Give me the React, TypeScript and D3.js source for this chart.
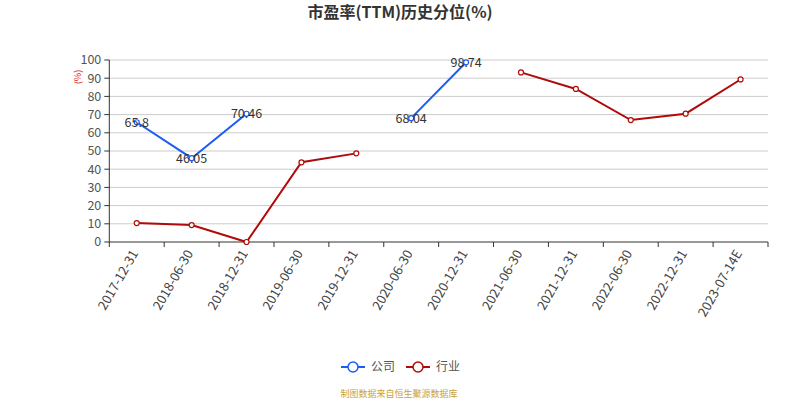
import React from "react";
import * as d3 from "d3";

const categories = [
  "2017-12-31", "2018-06-30", "2018-12-31", "2019-06-30", "2019-12-31", "2020-06-30",
  "2020-12-31", "2021-06-30", "2021-12-31", "2022-06-30", "2022-12-31", "2023-07-14E",
];
const companyValues: (number | null)[] = [65.8, 46.05, 70.46, null, null, 68.04, 98.74, null, null, null, null, null];
const industryValues: (number | null)[] = [10.4, 9.3, 0, 43.8, 48.7, null, null, 93.2, 84.1, 67.0, 70.5, 89.3];
const yTicks = [0, 10, 20, 30, 40, 50, 60, 70, 80, 90, 100];

const title = "市盈率(TTM)历史分位(%)";
const seriesNames = ["公司", "行业"];
const colors = ["#1a5cf5", "#b00a0a"];
const footer = "制图数据来自恒生聚源数据库";

const FONT = "'Microsoft YaHei', 'Noto Sans CJK SC', 'Noto Sans', sans-serif";

export default function App() {
  const W = 800, H = 400;
  const left = 109.3, right = 768, top = 60, bottom = 242;
  const x = d3.scaleBand<string>().domain(categories).range([left, right]);
  const y = d3.scaleLinear().domain([0, 100]).range([bottom, top]);
  const cx = (c: string) => (x(c) as number) + x.bandwidth() / 2;

  const line = d3
    .line<[string, number | null]>()
    .defined((d) => d[1] !== null)
    .x((d) => cx(d[0]))
    .y((d) => y(d[1] as number));

  const series = [companyValues, industryValues];
  const boundaries = [...categories.map((c) => x(c) as number), right];

  return (
    <svg
      width={W}
      height={H}
      style={{ position: "fixed", left: 0, top: 0, background: "#fff" }}
      fontFamily={FONT}
    >
      <text x={400} y={18} textAnchor="middle" fontSize={16} fontWeight="bold" fill="#333">
        {title}
      </text>

      {/* grid */}
      {yTicks.filter((t) => t > 0).map((t) => (
        <line key={t} x1={left} x2={right} y1={y(t)} y2={y(t)} stroke="#ccc" strokeWidth={1} />
      ))}

      {/* y axis */}
      <line x1={left} x2={left} y1={top} y2={bottom} stroke="#333" />
      {yTicks.map((t) => (
        <g key={t}>
          <line x1={left - 5} x2={left} y1={y(t)} y2={y(t)} stroke="#333" />
          <text x={left - 8} y={y(t)} dy="0.35em" textAnchor="end" fontSize={12.5} fill="#555">
            {t}
          </text>
        </g>
      ))}
      <text
        transform={`translate(78,77) rotate(-90)`}
        textAnchor="middle"
        dy="0.35em"
        fontSize={9}
        fill="#e02020"
      >
        (%)
      </text>

      {/* x axis */}
      <line x1={left} x2={right} y1={bottom} y2={bottom} stroke="#333" />
      {boundaries.map((b, i) => (
        <line key={i} x1={b} x2={b} y1={bottom} y2={bottom + 5} stroke="#333" />
      ))}
      {categories.map((c) => (
        <text
          key={c}
          transform={`translate(${cx(c) - 2},${bottom + 9}) rotate(-60)`}
          textAnchor="end"
          dy="0.35em"
          fontSize={13}
          fill="#444"
        >
          {c}
        </text>
      ))}

      {/* series */}
      {series.map((vals, si) => {
        const pts = categories.map((c, i) => [c, vals[i]] as [string, number | null]);
        return (
          <g key={si}>
            <path d={line(pts) || ""} fill="none" stroke={colors[si]} strokeWidth={2} />
            {pts
              .filter((p) => p[1] !== null)
              .map((p) => (
                <circle
                  key={p[0]}
                  cx={cx(p[0])}
                  cy={y(p[1] as number)}
                  r={2.5}
                  fill="#fff"
                  stroke={colors[si]}
                  strokeWidth={1.2}
                />
              ))}
          </g>
        );
      })}

      {/* company labels */}
      {categories.map((c, i) =>
        companyValues[i] !== null ? (
          <text
            key={c}
            x={cx(c)}
            y={y(companyValues[i] as number)}
            dy="0.35em"
            textAnchor="middle"
            fontSize={12.5}
            fill="#333"
          >
            {String(companyValues[i])}
          </text>
        ) : null
      )}

      {/* legend */}
      {seriesNames.map((n, i) => {
        const lx = i === 0 ? 341 : 406;
        const ly = 367;
        return (
          <g key={n}>
            <line x1={lx} x2={lx + 24} y1={ly} y2={ly} stroke={colors[i]} strokeWidth={2} />
            <circle cx={lx + 12} cy={ly} r={5} fill="#fff" stroke={colors[i]} strokeWidth={1.5} />
            <text x={lx + 30} y={ly} dy="0.35em" fontSize={12} fill="#555">
              {n}
            </text>
          </g>
        );
      })}

      <text x={399} y={394} dy="0.35em" textAnchor="middle" fontSize={9} fill="#c9a23c">
        {footer}
      </text>
    </svg>
  );
}
